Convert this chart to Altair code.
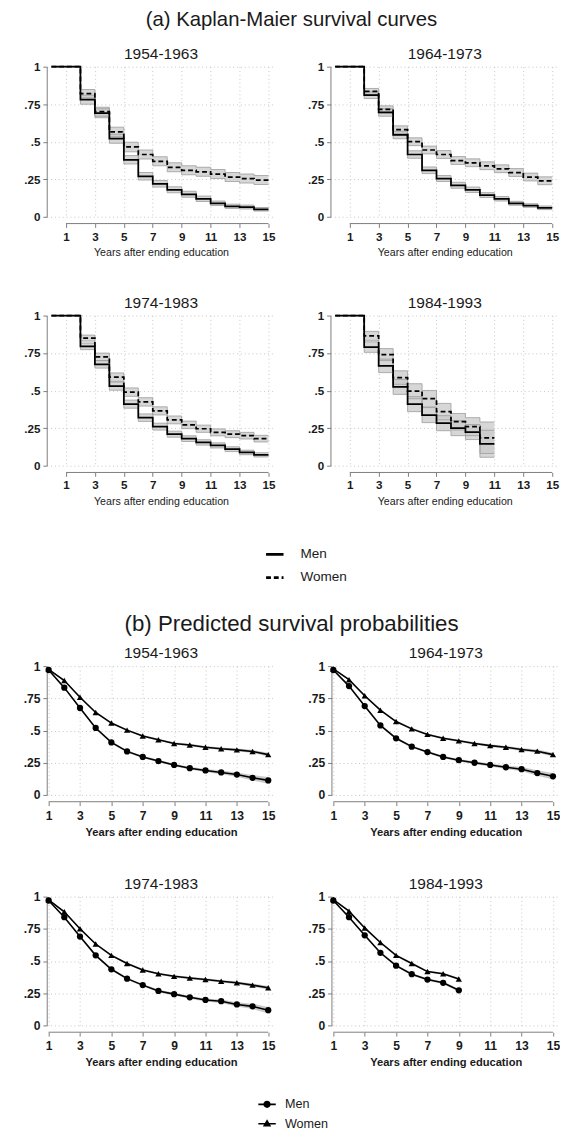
import altair as alt
import pandas as pd

FONT = "Liberation Sans"
TXT = "#1a1a1a"
GRID = "#c4c4c4"
AXC = "#7a7a7a"

cohorts = ["1954-1963", "1964-1973", "1974-1983", "1984-1993"]
sexes = ["Men", "Women"]
sex_codes_b = ["M", "W"]
x_ticks = [1, 3, 5, 7, 9, 11, 13, 15]
y_ticks = [0, 0.25, 0.5, 0.75, 1]

# ---------- (a) Kaplan-Meier step values (value at start of each interval) ----------
km_times_full = [0, 2, 3, 4, 5, 6, 7, 8, 9, 10, 11, 12, 13, 14]
km_end_full = 15
km_times_last = [0, 2, 3, 4, 5, 6, 7, 8, 9, 10]
km_end_last = 11

km_men_5463 = [1, 0.78, 0.69, 0.52, 0.38, 0.27, 0.22, 0.18, 0.15, 0.12, 0.09, 0.07, 0.065, 0.05]
km_women_5463 = [1, 0.82, 0.70, 0.565, 0.465, 0.415, 0.37, 0.33, 0.31, 0.30, 0.285, 0.265, 0.255, 0.245]
km_men_6473 = [1, 0.81, 0.695, 0.545, 0.415, 0.31, 0.255, 0.21, 0.18, 0.145, 0.12, 0.09, 0.075, 0.06]
km_women_6473 = [1, 0.835, 0.715, 0.58, 0.50, 0.445, 0.415, 0.375, 0.36, 0.34, 0.32, 0.295, 0.265, 0.24]
km_men_7483 = [1, 0.795, 0.675, 0.53, 0.41, 0.32, 0.26, 0.21, 0.18, 0.155, 0.135, 0.11, 0.088, 0.072]
km_women_7483 = [1, 0.85, 0.725, 0.59, 0.49, 0.425, 0.365, 0.305, 0.272, 0.246, 0.222, 0.21, 0.20, 0.18]
km_men_8493 = [1, 0.79, 0.665, 0.525, 0.41, 0.337, 0.283, 0.25, 0.224, 0.146]
km_women_8493 = [1, 0.865, 0.74, 0.587, 0.496, 0.446, 0.36, 0.293, 0.26, 0.186]

# half-widths of the confidence bands
km_ci_men_5463 = [0, 0.03, 0.03, 0.03, 0.028, 0.025, 0.022, 0.02, 0.02, 0.018, 0.015, 0.014, 0.013, 0.012]
km_ci_women_5463 = [0, 0.028, 0.03, 0.032, 0.032, 0.03, 0.03, 0.03, 0.03, 0.03, 0.03, 0.03, 0.03, 0.03]
km_ci_men_6473 = [0, 0.022, 0.025, 0.025, 0.025, 0.022, 0.02, 0.02, 0.018, 0.016, 0.015, 0.013, 0.012, 0.012]
km_ci_women_6473 = [0, 0.02, 0.024, 0.026, 0.026, 0.026, 0.026, 0.026, 0.026, 0.026, 0.026, 0.026, 0.026, 0.026]
km_ci_men_7483 = [0, 0.022, 0.025, 0.027, 0.027, 0.025, 0.023, 0.02, 0.019, 0.018, 0.017, 0.016, 0.015, 0.014]
km_ci_women_7483 = [0, 0.02, 0.025, 0.028, 0.028, 0.028, 0.027, 0.026, 0.025, 0.024, 0.023, 0.023, 0.022, 0.022]
km_ci_men_8493 = [0, 0.035, 0.045, 0.05, 0.05, 0.05, 0.05, 0.05, 0.05, 0.09]
km_ci_women_8493 = [0, 0.03, 0.04, 0.045, 0.05, 0.055, 0.055, 0.055, 0.06, 0.105]

# ---------- (b) predicted survival probabilities, years 1.. ----------
pr_men_5463 = [0.97, 0.833, 0.675, 0.52, 0.408, 0.338, 0.295, 0.263, 0.233, 0.208, 0.19, 0.175, 0.158, 0.133, 0.113]
pr_women_5463 = [0.975, 0.888, 0.758, 0.64, 0.558, 0.503, 0.458, 0.428, 0.40, 0.388, 0.37, 0.358, 0.35, 0.338, 0.313]
pr_men_6473 = [0.97, 0.845, 0.69, 0.54, 0.44, 0.375, 0.333, 0.295, 0.27, 0.25, 0.233, 0.215, 0.20, 0.17, 0.145]
pr_women_6473 = [0.978, 0.895, 0.77, 0.658, 0.57, 0.513, 0.47, 0.44, 0.42, 0.40, 0.383, 0.37, 0.353, 0.34, 0.313]
pr_men_7483 = [0.97, 0.84, 0.69, 0.544, 0.436, 0.363, 0.313, 0.268, 0.243, 0.218, 0.198, 0.188, 0.163, 0.148, 0.118]
pr_women_7483 = [0.975, 0.882, 0.75, 0.632, 0.544, 0.481, 0.431, 0.401, 0.381, 0.368, 0.356, 0.343, 0.331, 0.313, 0.293]
pr_men_8493 = [0.97, 0.84, 0.70, 0.564, 0.464, 0.398, 0.356, 0.331, 0.273]
pr_women_8493 = [0.977, 0.887, 0.757, 0.644, 0.544, 0.481, 0.418, 0.401, 0.361]

pr_ci_men = [0.006, 0.008, 0.009, 0.009, 0.009, 0.009, 0.009, 0.01, 0.01, 0.011, 0.012, 0.014, 0.017, 0.021, 0.026]
pr_ci_women = [0.005, 0.007, 0.008, 0.008, 0.008, 0.008, 0.008, 0.008, 0.009, 0.009, 0.01, 0.01, 0.011, 0.012, 0.014]

km_series = {
    "1954-1963": (km_times_full, km_end_full, km_men_5463, km_women_5463, km_ci_men_5463, km_ci_women_5463),
    "1964-1973": (km_times_full, km_end_full, km_men_6473, km_women_6473, km_ci_men_6473, km_ci_women_6473),
    "1974-1983": (km_times_full, km_end_full, km_men_7483, km_women_7483, km_ci_men_7483, km_ci_women_7483),
    "1984-1993": (km_times_last, km_end_last, km_men_8493, km_women_8493, km_ci_men_8493, km_ci_women_8493),
}
pr_series = {
    "1954-1963": (pr_men_5463, pr_women_5463),
    "1964-1973": (pr_men_6473, pr_women_6473),
    "1974-1983": (pr_men_7483, pr_women_7483),
    "1984-1993": (pr_men_8493, pr_women_8493),
}

W = 236
HA = 155
HB = 133

ylab = "datum.value == 1 ? '1' : (datum.value == 0 ? '0' : replace(format(datum.value, '.2~f'), '0.', '.'))"


def y_axis(size):
    return alt.Axis(values=y_ticks, tickCount=20, labelExpr=ylab, title=None, grid=True, gridDash=[1, 3],
                    gridColor=GRID, domainColor=AXC, tickColor=AXC, tickSize=4, labelPadding=3,
                    labelFontSize=size, labelFontWeight="bold", labelColor=TXT, labelOverlap=False)


def x_axis(lsize, tsize, tweight):
    return alt.Axis(values=x_ticks, tickCount=30, format="d", title="Years after ending education",
                    domain=False, offset=7, grid=True, gridDash=[1, 3], gridColor=GRID, tickColor=AXC,
                    tickSize=4, labelPadding=4, labelFontSize=lsize, labelFontWeight="bold",
                    labelColor=TXT, labelFlush=False, labelOverlap=False, titleFontSize=tsize,
                    titleFontWeight=tweight, titleColor=TXT, titlePadding=5)


legend_a = alt.Legend(orient="none", legendX=225, legendY=493, title=None, symbolType="stroke",
                      symbolSize=324, symbolStrokeWidth=2.8, symbolStrokeColor="black",
                      labelFontSize=14, labelColor=TXT, labelOffset=16, rowPadding=6)

# legend glyphs: marker with a short connecting line through it
circ = "M-1,-0.09H1V0.09H-1Z M0.42,0A0.42,0.42,0,1,1,-0.42,0A0.42,0.42,0,1,1,0.42,0Z"
tri = "M-1,-0.09H1V0.09H-1Z M0,-0.52L0.48,0.32L-0.48,0.32Z"
legend_b = alt.Legend(orient="none", legendX=218, legendY=1062, title=None, symbolSize=324,
                      symbolFillColor="black", symbolStrokeColor="black", symbolStrokeWidth=0.5,
                      symbolOpacity=1, labelFontSize=13, labelColor=TXT, labelOffset=9, rowPadding=3,
                      labelExpr="datum.label == 'M' ? 'Men' : 'Women'")


def km_panel(cohort):
    times, end, men, women, cm, cw = km_series[cohort]
    rows = []
    for sex, vals, ci in (("Men", men, cm), ("Women", women, cw)):
        for t, v, h in zip(times, vals, ci):
            rows.append({"sex": sex, "t": t, "s": v, "lo": v - h, "hi": v + h})
        rows.append({"sex": sex, "t": end, "s": vals[-1], "lo": vals[-1] - ci[-1], "hi": vals[-1] + ci[-1]})
    df = pd.DataFrame(rows)
    xs = alt.Scale(domain=[-0.33, 15.47], nice=False, zero=False)
    ys = alt.Scale(domain=[0, 1], nice=False)
    base = alt.Chart(df)
    band = base.mark_area(interpolate="step-after", color="#c9c9c9", opacity=0.75).encode(
        x=alt.X("t:Q", scale=xs, axis=x_axis(12, 11, "normal")),
        y=alt.Y("lo:Q", scale=ys, axis=y_axis(12)), y2="hi:Q", detail="sex:N")
    edges = base.transform_fold(["lo", "hi"]).mark_line(
        interpolate="step-after", color="#9a9a9a", strokeWidth=0.8).encode(
        x="t:Q", y="value:Q", detail=["sex:N", "key:N"])
    lines = base.mark_line(interpolate="step-after", color="black", strokeWidth=1.8).encode(
        x="t:Q", y="s:Q",
        strokeDash=alt.StrokeDash("sex:N", scale=alt.Scale(domain=sexes, range=[[1, 0], [5, 3]]),
                                  legend=legend_a),
        order=alt.Order("t:Q"))
    axl = alt.Chart(pd.DataFrame({"a": [1], "b": [15]})).mark_rule(color=AXC, strokeWidth=1).encode(
        x="a:Q", x2="b:Q", y=alt.datum(-7.0 / HA))
    return alt.layer(band, edges, lines, axl).properties(
        width=W, height=HA,
        title=alt.TitleParams(cohort, fontSize=16, fontWeight="normal", anchor="middle",
                              frame="group", offset=-1, color=TXT))


def pr_panel(cohort):
    men, women = pr_series[cohort]
    rows = []
    for sex, vals, ci in (("M", men, pr_ci_men), ("W", women, pr_ci_women)):
        for i, v in enumerate(vals):
            rows.append({"grp": sex, "t": i + 1, "s": v, "lo": v - ci[i], "hi": v + ci[i]})
    df = pd.DataFrame(rows)
    xs = alt.Scale(domain=[0.88, 15.45], nice=False, zero=False)
    ys = alt.Scale(domain=[0, 1], nice=False)
    base = alt.Chart(df)
    band = base.mark_area(color="#bdbdbd", opacity=0.8).encode(
        x=alt.X("t:Q", scale=xs, axis=x_axis(12.5, 11.5, "bold")),
        y=alt.Y("lo:Q", scale=ys, axis=y_axis(12.5)), y2="hi:Q", detail="grp:N")
    lines = base.mark_line(color="black", strokeWidth=1.6).encode(x="t:Q", y="s:Q", detail="grp:N")
    pts_m = base.transform_filter("datum.grp == 'M'").mark_point(
        filled=True, color="black", size=42, opacity=1, shape="circle").encode(x="t:Q", y="s:Q")
    pts_w = base.transform_filter("datum.grp == 'W'").mark_point(
        filled=True, color="black", size=42, opacity=1, shape="triangle-up").encode(x="t:Q", y="s:Q")
    # legend carrier: no rows drawn, its shape scale supplies the legend entries
    key = base.transform_filter("datum.t < 0").mark_point(filled=True, color="black", opacity=1).encode(
        x="t:Q", y="s:Q",
        shape=alt.Shape("grp:N", scale=alt.Scale(domain=sex_codes_b, range=[circ, tri]), legend=legend_b))
    axl = alt.Chart(pd.DataFrame({"a": [1], "b": [15]})).mark_rule(color=AXC, strokeWidth=1).encode(
        x="a:Q", x2="b:Q", y=alt.datum(-7.0 / HB))
    return alt.layer(band, lines, pts_m, pts_w, key, axl).properties(
        width=W, height=HB,
        title=alt.TitleParams(cohort, fontSize=16, fontWeight="normal", anchor="middle",
                              frame="group", offset=-1, color=TXT))


sec_a = alt.vconcat(
    alt.hconcat(km_panel(cohorts[0]), km_panel(cohorts[1]), spacing=33),
    alt.hconcat(km_panel(cohorts[2]), km_panel(cohorts[3]), spacing=33),
    spacing=39,
    title=alt.TitleParams("(a) Kaplan-Maier survival curves", fontSize=21, fontWeight="normal",
                          anchor="middle", offset=17, color=TXT))
sec_b = alt.vconcat(
    alt.hconcat(pr_panel(cohorts[0]), pr_panel(cohorts[1]), spacing=33),
    alt.hconcat(pr_panel(cohorts[2]), pr_panel(cohorts[3]), spacing=33),
    spacing=40,
    title=alt.TitleParams("(b) Predicted survival probabilities", fontSize=23, fontWeight="normal",
                          anchor="middle", offset=10, color=TXT))

chart = alt.vconcat(sec_a, sec_b, spacing=111).properties(
    padding={"left": 15, "top": -17, "right": 0, "bottom": 0}, background="white"
).configure(font=FONT).configure_view(stroke=None).configure_axis(
    labelFont=FONT, titleFont=FONT, labelOverlap=False).configure_legend(labelFont=FONT).configure_title(font=FONT)

chart.save("out.html", embed_options={"renderer": "svg", "actions": False})
